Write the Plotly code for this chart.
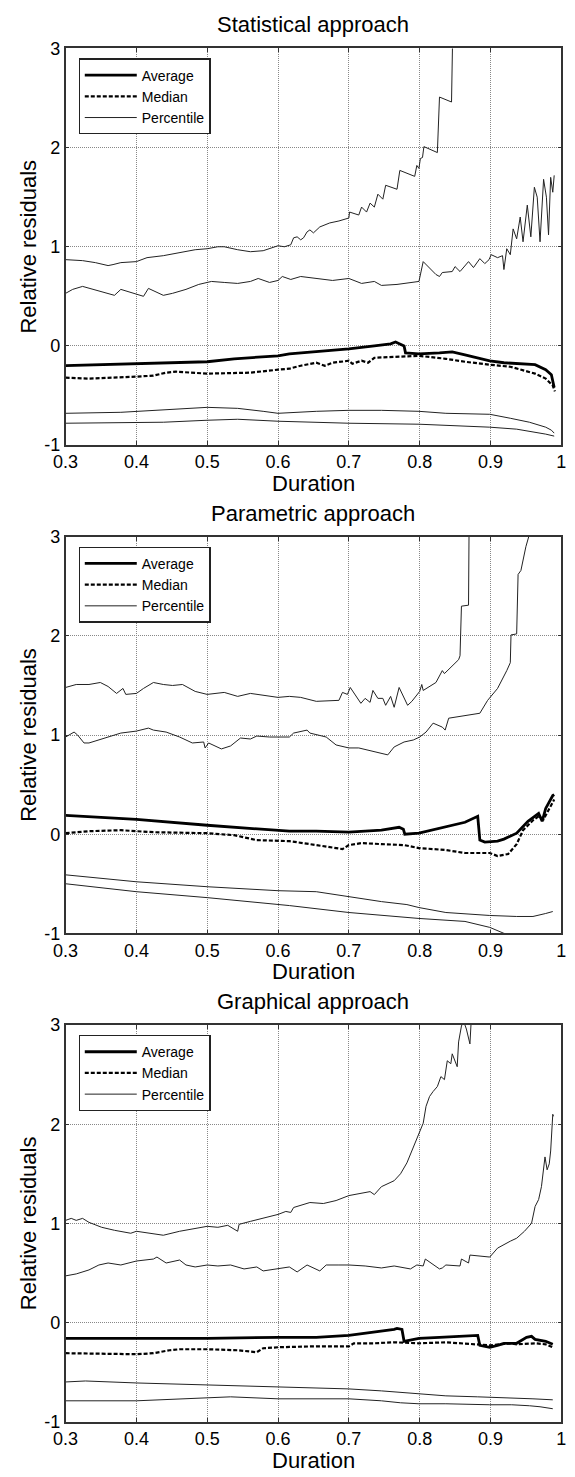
import plotly.graph_objects as go

# ---------------- data: Statistical approach ----------------
stat_avg_x = [0.300, 0.400, 0.500, 0.538, 0.600, 0.616, 0.654, 0.700, 0.736, 0.759, 0.766, 0.773, 0.778,
              0.780, 0.799, 0.828, 0.846, 0.864, 0.882, 0.899, 0.919, 0.937, 0.955, 0.963, 0.978, 0.986, 0.990]
stat_avg_y = [-0.20, -0.18, -0.16, -0.13, -0.10, -0.08, -0.06, -0.03, 0.00, 0.02, 0.04, 0.02, 0.00,
              -0.07, -0.08, -0.07, -0.06, -0.09, -0.12, -0.15, -0.17, -0.18, -0.19, -0.19, -0.24, -0.29, -0.42]

stat_med_x = [0.300, 0.333, 0.400, 0.424, 0.442, 0.456, 0.500, 0.561, 0.600, 0.616, 0.632, 0.654, 0.666,
              0.677, 0.700, 0.705, 0.718, 0.727, 0.736, 0.759, 0.799, 0.837, 0.864, 0.899, 0.928, 0.963,
              0.978, 0.988, 0.991]
stat_med_y = [-0.32, -0.33, -0.31, -0.30, -0.27, -0.26, -0.28, -0.27, -0.24, -0.23, -0.20, -0.17, -0.20,
              -0.17, -0.15, -0.18, -0.15, -0.17, -0.12, -0.11, -0.10, -0.13, -0.16, -0.19, -0.21, -0.28,
              -0.33, -0.40, -0.46]

stat_p1_x = [0.300, 0.324, 0.342, 0.360, 0.367, 0.378, 0.400, 0.415, 0.438, 0.461, 0.483, 0.500, 0.515,
             0.524, 0.543, 0.561, 0.579, 0.600, 0.609, 0.618, 0.622, 0.627, 0.632, 0.636, 0.641, 0.645,
             0.650, 0.659, 0.673, 0.686, 0.700, 0.701, 0.714, 0.718, 0.725, 0.730, 0.736, 0.741, 0.748,
             0.752, 0.768, 0.772, 0.793, 0.796, 0.799, 0.801, 0.804, 0.806, 0.825, 0.828, 0.845, 0.847]
stat_p1_y = [0.87, 0.86, 0.84, 0.81, 0.82, 0.84, 0.85, 0.89, 0.91, 0.94, 0.97, 0.98, 1.00,
             1.00, 0.97, 0.95, 0.96, 1.01, 1.00, 1.02, 1.09, 1.10, 1.07, 1.09, 1.15, 1.17,
             1.14, 1.20, 1.24, 1.26, 1.29, 1.35, 1.32, 1.40, 1.35, 1.44, 1.40, 1.53, 1.48,
             1.62, 1.58, 1.77, 1.71, 1.82, 1.79, 1.89, 1.90, 2.01, 1.95, 2.51, 2.46, 3.30]

stat_p2_x = [0.300, 0.310, 0.324, 0.351, 0.369, 0.378, 0.410, 0.417, 0.438, 0.451, 0.470, 0.488, 0.506,
             0.524, 0.543, 0.561, 0.572, 0.588, 0.600, 0.606, 0.618, 0.632, 0.654, 0.677, 0.700, 0.718,
             0.736, 0.746, 0.768, 0.791, 0.799, 0.805, 0.823, 0.828, 0.832, 0.846, 0.850, 0.857, 0.869,
             0.876, 0.885, 0.892, 0.898, 0.901, 0.910, 0.917, 0.919, 0.923, 0.928, 0.932, 0.937, 0.942,
             0.946, 0.952, 0.957, 0.962, 0.966, 0.970, 0.975, 0.979, 0.982, 0.985, 0.988, 0.990]
stat_p2_y = [0.53, 0.57, 0.60, 0.55, 0.51, 0.57, 0.50, 0.58, 0.51, 0.53, 0.57, 0.62, 0.65,
             0.64, 0.63, 0.65, 0.68, 0.64, 0.66, 0.70, 0.67, 0.70, 0.68, 0.66, 0.68, 0.63,
             0.65, 0.61, 0.62, 0.64, 0.65, 0.85, 0.72, 0.70, 0.74, 0.75, 0.80, 0.75, 0.85,
             0.79, 0.88, 0.83, 0.87, 0.92, 0.89, 0.91, 0.77, 0.98, 0.92, 1.18, 1.08, 1.30,
             1.05, 1.42, 1.10, 1.60, 1.50, 1.05, 1.68, 1.50, 1.12, 1.70, 1.55, 1.72]

stat_p3_x = [0.300, 0.378, 0.500, 0.543, 0.579, 0.600, 0.654, 0.700, 0.746, 0.799, 0.837, 0.899, 0.928,
             0.955, 0.978, 0.986, 0.990]
stat_p3_y = [-0.68, -0.67, -0.62, -0.63, -0.66, -0.68, -0.66, -0.65, -0.65, -0.66, -0.68, -0.69, -0.73,
             -0.77, -0.82, -0.85, -0.88]

stat_p4_x = [0.300, 0.438, 0.500, 0.543, 0.600, 0.700, 0.799, 0.899, 0.937, 0.955, 0.978, 0.990]
stat_p4_y = [-0.78, -0.77, -0.75, -0.74, -0.76, -0.78, -0.79, -0.82, -0.84, -0.86, -0.89, -0.91]

# ---------------- data: Parametric approach ----------------
par_avg_x = [0.300, 0.400, 0.500, 0.600, 0.616, 0.654, 0.700, 0.746, 0.764, 0.771, 0.777, 0.779, 0.799,
             0.837, 0.864, 0.882, 0.885, 0.892, 0.910, 0.919, 0.937, 0.953, 0.968, 0.973, 0.978, 0.988, 0.990]
par_avg_y = [0.19, 0.15, 0.09, 0.04, 0.03, 0.03, 0.02, 0.04, 0.06, 0.07, 0.05, 0.00, 0.01,
             0.07, 0.12, 0.18, -0.06, -0.08, -0.07, -0.05, 0.01, 0.13, 0.21, 0.13, 0.26, 0.39, 0.40]

par_med_x = [0.300, 0.333, 0.378, 0.424, 0.500, 0.538, 0.570, 0.600, 0.616, 0.654, 0.691, 0.700, 0.718,
             0.746, 0.778, 0.799, 0.837, 0.864, 0.899, 0.910, 0.919, 0.925, 0.937, 0.946, 0.960, 0.968,
             0.975, 0.988, 0.990]
par_med_y = [0.01, 0.03, 0.04, 0.02, 0.01, -0.01, -0.06, -0.07, -0.07, -0.11, -0.15, -0.11, -0.09,
             -0.10, -0.11, -0.14, -0.16, -0.19, -0.19, -0.22, -0.21, -0.20, -0.10, 0.04, 0.14, 0.18,
             0.15, 0.33, 0.35]

par_p1_x = [0.300, 0.315, 0.333, 0.349, 0.360, 0.372, 0.381, 0.385, 0.400, 0.410, 0.424, 0.438, 0.451,
            0.465, 0.483, 0.500, 0.524, 0.543, 0.561, 0.579, 0.600, 0.616, 0.632, 0.654, 0.686, 0.691,
            0.698, 0.702, 0.709, 0.717, 0.723, 0.730, 0.734, 0.741, 0.748, 0.752, 0.759, 0.764, 0.771,
            0.778, 0.783, 0.789, 0.796, 0.800, 0.803, 0.805, 0.823, 0.832, 0.835, 0.846, 0.855, 0.857,
            0.859, 0.869, 0.870]
par_p1_y = [1.48, 1.51, 1.51, 1.53, 1.49, 1.42, 1.47, 1.41, 1.42, 1.47, 1.53, 1.51, 1.50,
            1.51, 1.44, 1.41, 1.43, 1.39, 1.42, 1.40, 1.38, 1.39, 1.38, 1.34, 1.35, 1.43,
            1.41, 1.48, 1.40, 1.32, 1.37, 1.33, 1.45, 1.37, 1.37, 1.30, 1.39, 1.28, 1.48,
            1.37, 1.30, 1.34, 1.40, 1.44, 1.51, 1.45, 1.53, 1.65, 1.62, 1.70, 1.76, 1.80,
            2.30, 2.31, 3.30]

par_p2_x = [0.300, 0.312, 0.317, 0.326, 0.333, 0.356, 0.378, 0.400, 0.417, 0.424, 0.442, 0.461, 0.479,
            0.495, 0.497, 0.502, 0.515, 0.520, 0.533, 0.547, 0.561, 0.570, 0.588, 0.600, 0.616, 0.622,
            0.641, 0.645, 0.668, 0.682, 0.700, 0.714, 0.732, 0.746, 0.755, 0.764, 0.778, 0.791, 0.800,
            0.809, 0.819, 0.832, 0.836, 0.841, 0.864, 0.885, 0.896, 0.910, 0.923, 0.928, 0.929, 0.937,
            0.939, 0.943, 0.950, 0.956]
par_p2_y = [0.98, 1.03, 1.00, 0.92, 0.92, 0.97, 1.02, 1.04, 1.07, 1.05, 1.03, 0.98, 0.92,
            0.93, 0.87, 0.92, 0.88, 0.86, 0.89, 0.97, 0.96, 0.99, 0.98, 0.98, 0.98, 1.02,
            1.05, 1.02, 0.98, 0.90, 0.87, 0.87, 0.84, 0.82, 0.80, 0.88, 0.93, 0.95, 0.98,
            1.03, 1.12, 1.08, 1.05, 1.17, 1.20, 1.22, 1.35, 1.47, 1.65, 1.73, 2.01, 2.02,
            2.62, 2.66, 2.90, 3.05]

par_p3_x = [0.300, 0.400, 0.500, 0.600, 0.654, 0.700, 0.746, 0.782, 0.799, 0.837, 0.899, 0.937, 0.960,
            0.978, 0.988]
par_p3_y = [-0.41, -0.48, -0.53, -0.57, -0.58, -0.63, -0.68, -0.71, -0.74, -0.79, -0.82, -0.83, -0.83,
            -0.80, -0.78]

par_p4_x = [0.300, 0.400, 0.500, 0.600, 0.616, 0.700, 0.799, 0.864, 0.899, 0.919, 0.950, 0.990]
par_p4_y = [-0.50, -0.58, -0.64, -0.71, -0.72, -0.79, -0.85, -0.88, -0.94, -1.00, -1.05, -1.10]

# ---------------- data: Graphical approach ----------------
gra_avg_x = [0.300, 0.400, 0.500, 0.600, 0.654, 0.700, 0.736, 0.764, 0.768, 0.775, 0.778, 0.799, 0.828,
             0.864, 0.882, 0.885, 0.899, 0.910, 0.919, 0.937, 0.951, 0.958, 0.963, 0.978, 0.988]
gra_avg_y = [-0.16, -0.16, -0.16, -0.15, -0.15, -0.13, -0.10, -0.07, -0.06, -0.07, -0.19, -0.16, -0.15,
             -0.14, -0.13, -0.23, -0.25, -0.23, -0.21, -0.21, -0.15, -0.14, -0.17, -0.19, -0.22]

gra_med_x = [0.300, 0.400, 0.424, 0.447, 0.461, 0.500, 0.543, 0.570, 0.579, 0.600, 0.654, 0.700, 0.707,
             0.736, 0.764, 0.799, 0.837, 0.864, 0.892, 0.899, 0.928, 0.937, 0.964, 0.978, 0.988]
gra_med_y = [-0.31, -0.32, -0.31, -0.28, -0.27, -0.27, -0.28, -0.30, -0.26, -0.25, -0.24, -0.24, -0.21,
             -0.21, -0.20, -0.21, -0.20, -0.21, -0.22, -0.23, -0.21, -0.22, -0.21, -0.22, -0.25]

gra_p1_x = [0.300, 0.308, 0.315, 0.324, 0.333, 0.351, 0.369, 0.392, 0.400, 0.424, 0.438, 0.461, 0.483,
            0.500, 0.515, 0.529, 0.543, 0.545, 0.561, 0.579, 0.600, 0.611, 0.618, 0.622, 0.645, 0.664,
            0.682, 0.700, 0.718, 0.730, 0.736, 0.746, 0.764, 0.773, 0.782, 0.791, 0.799, 0.805, 0.809,
            0.814, 0.819, 0.825, 0.830, 0.835, 0.839, 0.844, 0.846, 0.853, 0.855, 0.859, 0.862, 0.866,
            0.871, 0.872, 0.874]
gra_p1_y = [1.03, 1.05, 1.03, 1.05, 1.01, 0.96, 0.93, 0.90, 0.92, 0.89, 0.88, 0.92, 0.95,
            0.97, 0.96, 0.98, 0.92, 0.99, 1.02, 1.05, 1.09, 1.12, 1.11, 1.16, 1.21, 1.20,
            1.23, 1.28, 1.30, 1.32, 1.29, 1.37, 1.43, 1.50, 1.61, 1.76, 1.90, 2.01, 2.18,
            2.28, 2.33, 2.38, 2.48, 2.45, 2.64, 2.61, 2.71, 2.58, 2.83, 2.99, 3.04, 2.96,
            2.81, 3.01, 3.20]

gra_p2_x = [0.300, 0.315, 0.333, 0.347, 0.360, 0.378, 0.400, 0.424, 0.429, 0.442, 0.461, 0.470, 0.483,
            0.500, 0.515, 0.533, 0.552, 0.570, 0.579, 0.600, 0.616, 0.627, 0.641, 0.659, 0.668, 0.686,
            0.700, 0.723, 0.746, 0.764, 0.787, 0.796, 0.805, 0.808, 0.828, 0.832, 0.837, 0.857, 0.859,
            0.869, 0.871, 0.899, 0.910, 0.928, 0.937, 0.948, 0.958, 0.963, 0.968, 0.972, 0.977, 0.980,
            0.983, 0.985, 0.988, 0.989]
gra_p2_y = [0.47, 0.49, 0.53, 0.58, 0.60, 0.58, 0.62, 0.64, 0.66, 0.60, 0.63, 0.58, 0.56,
            0.58, 0.57, 0.58, 0.54, 0.56, 0.52, 0.54, 0.56, 0.51, 0.58, 0.52, 0.58, 0.58,
            0.58, 0.57, 0.55, 0.57, 0.54, 0.58, 0.57, 0.64, 0.54, 0.55, 0.58, 0.57, 0.64,
            0.60, 0.68, 0.66, 0.75, 0.82, 0.85, 0.92, 1.00, 1.17, 1.24, 1.37, 1.67, 1.54,
            1.60, 1.73, 2.10, 2.08]

gra_p3_x = [0.300, 0.328, 0.400, 0.500, 0.600, 0.700, 0.746, 0.799, 0.837, 0.882, 0.937, 0.960, 0.988]
gra_p3_y = [-0.60, -0.59, -0.61, -0.63, -0.65, -0.67, -0.69, -0.72, -0.74, -0.75, -0.76, -0.77, -0.78]

gra_p4_x = [0.300, 0.400, 0.500, 0.533, 0.600, 0.700, 0.746, 0.773, 0.799, 0.837, 0.899, 0.930, 0.955,
            0.970, 0.988]
gra_p4_y = [-0.79, -0.79, -0.76, -0.75, -0.77, -0.77, -0.79, -0.81, -0.82, -0.82, -0.83, -0.83, -0.84,
            -0.85, -0.87]

panel_titles = ["Statistical approach", "Parametric approach", "Graphical approach"]
x_axis_title = "Duration"
y_axis_title = "Relative residuals"
x_ticks = [0.3, 0.4, 0.5, 0.6, 0.7, 0.8, 0.9, 1.0]
x_tick_labels = ["0.3", "0.4", "0.5", "0.6", "0.7", "0.8", "0.9", "1"]
y_ticks = [-1, 0, 1, 2, 3]
y_tick_labels = ["-1", "0", "1", "2", "3"]

panels = [
    dict(avg=(stat_avg_x, stat_avg_y), med=(stat_med_x, stat_med_y),
         pct=[(stat_p1_x, stat_p1_y), (stat_p2_x, stat_p2_y), (stat_p3_x, stat_p3_y), (stat_p4_x, stat_p4_y)]),
    dict(avg=(par_avg_x, par_avg_y), med=(par_med_x, par_med_y),
         pct=[(par_p1_x, par_p1_y), (par_p2_x, par_p2_y), (par_p3_x, par_p3_y), (par_p4_x, par_p4_y)]),
    dict(avg=(gra_avg_x, gra_avg_y), med=(gra_med_x, gra_med_y),
         pct=[(gra_p1_x, gra_p1_y), (gra_p2_x, gra_p2_y), (gra_p3_x, gra_p3_y), (gra_p4_x, gra_p4_y)]),
]

# ---------------- layout geometry (pixels) ----------------
W, H = 575, 1477
X0, X1 = 54.3, 566.0
tops = [39, 534, 1029]
PH = 402
FONT = "Liberation Sans, Arial, Helvetica, sans-serif"

fig = go.Figure()
layout = dict(width=W, height=H, margin=dict(l=0, r=0, t=0, b=0),
              paper_bgcolor="white", plot_bgcolor="white",
              font=dict(family=FONT, color="black"), showlegend=True)
annotations = []

for i, p in enumerate(panels):
    k = "" if i == 0 else str(i + 1)
    xa, ya = "x" + k, "y" + k
    lg = "legend" + k
    fig.add_trace(go.Scatter(x=p["avg"][0], y=p["avg"][1], mode="lines", name="Average",
                             line=dict(color="black", width=2.8), xaxis=xa, yaxis=ya, legend=lg))
    fig.add_trace(go.Scatter(x=p["med"][0], y=p["med"][1], mode="lines", name="Median",
                             line=dict(color="black", width=2.2, dash="4px,2px"), xaxis=xa, yaxis=ya, legend=lg))
    for j, (px_, py_) in enumerate(p["pct"]):
        fig.add_trace(go.Scatter(x=px_, y=py_, mode="lines", name="Percentile", showlegend=(j == 0),
                                 line=dict(color="#222", width=1), xaxis=xa, yaxis=ya, legend=lg))
    top, bot = tops[i], tops[i] + PH
    axis_common = dict(showline=True, mirror="ticks", linecolor="#333", linewidth=1.5,
                       ticks="inside", ticklen=4, tickcolor="#333",
                       showgrid=True, gridcolor="#888", griddash="1px,1px", gridwidth=1,
                       zeroline=False, tickfont=dict(family=FONT, size=18, color="black"))
    layout["xaxis" + k] = dict(axis_common, domain=[X0 / W, X1 / W], anchor=ya, range=[0.3, 1.0],
                               tickvals=x_ticks, ticktext=x_tick_labels)
    layout["yaxis" + k] = dict(axis_common, domain=[1 - bot / H, 1 - top / H], anchor=xa, range=[-1, 3],
                               tickvals=y_ticks, ticktext=y_tick_labels,
                               title=dict(text=y_axis_title, standoff=2, font=dict(family=FONT, size=22)))
    layout[lg] = dict(x=67.7 / W, y=1 - (top + 10) / H, xanchor="left", yanchor="top",
                      bordercolor="#222", borderwidth=1.2, bgcolor="white",
                      font=dict(family=FONT, size=14, color="black"), itemwidth=52,
                      tracegroupgap=0)
    annotations.append(dict(text=panel_titles[i], x=(X0 + X1) / 2 / W, y=1 - (top - 24) / H,
                            xref="paper", yref="paper", showarrow=False, xanchor="center", yanchor="middle",
                            font=dict(family=FONT, size=22, color="black")))
    annotations.append(dict(text=x_axis_title, x=(X0 + X1) / 2 / W, y=1 - (bot + 39) / H,
                            xref="paper", yref="paper", showarrow=False, xanchor="center", yanchor="middle",
                            font=dict(family=FONT, size=22, color="black")))

layout["annotations"] = annotations
fig.update_layout(**layout)
fig.write_html("out.html")
